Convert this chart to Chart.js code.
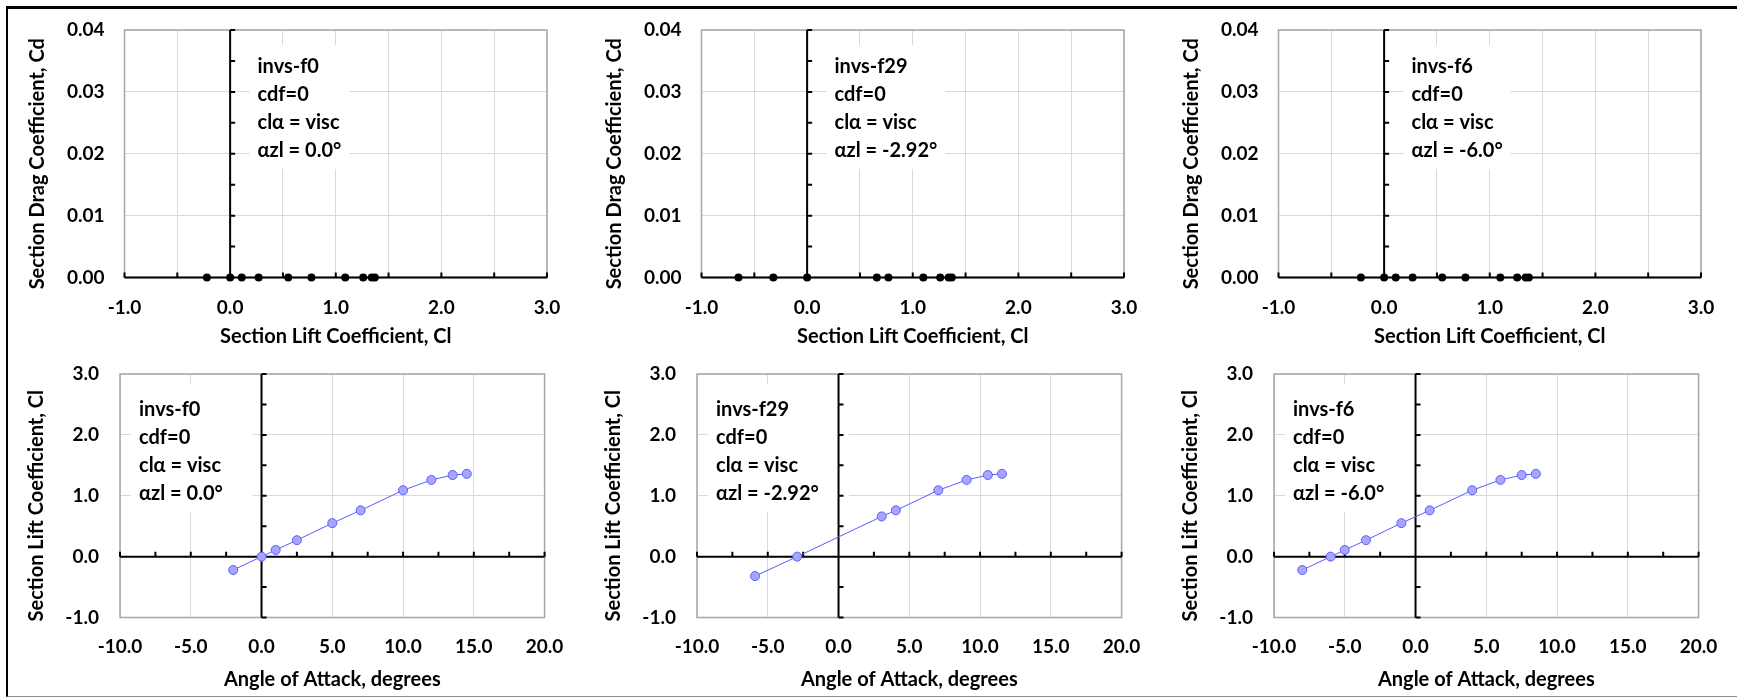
<!DOCTYPE html>
<html lang="en">
  <head>
    <meta charset="UTF-8" />
    <title>Section drag and lift - invs-f0 / invs-f29 / invs-f6</title>
    <script src="https://cdn.jsdelivr.net/npm/chart.js"></script>
    <style>
      body {
        margin: 0;
        background: #fff;
        width: 1737px;
        height: 698px;
        position: relative;
        overflow: hidden;
      }
      .frame {
        position: absolute;
        left: 6px;
        top: 6px;
        width: 1740px;
        height: 687px;
        border-top: 3px solid #000;
        border-left: 2px solid #000;
        border-bottom: 1px solid #8c8c8c;
      }
      canvas {
        position: absolute;
      }
    </style>
  </head>
  <body>
    <div class="frame"></div>
    <canvas id="polar-f0" width="577" height="349" style="left:0;top:0"></canvas>
    <canvas id="polar-f29" width="577" height="349" style="left:577px;top:0"></canvas>
    <canvas id="polar-f6" width="577" height="349" style="left:1154px;top:0"></canvas>
    <canvas id="lift-f0" width="577" height="349" style="left:0;top:349px"></canvas>
    <canvas id="lift-f29" width="577" height="349" style="left:577px;top:349px"></canvas>
    <canvas id="lift-f6" width="577" height="349" style="left:1154px;top:349px"></canvas>

    <script>
      // top row: drag polars (Cd against Cl)
      const polarClF0 = [-0.22, 0.0, 0.11, 0.27, 0.55, 0.77, 1.09, 1.26, 1.34, 1.37]
      const polarCdF0 = [0, 0, 0, 0, 0, 0, 0, 0, 0, 0]
      const polarClF29 = [-0.65, -0.32, 0.0, 0.66, 0.77, 1.1, 1.26, 1.34, 1.37]
      const polarCdF29 = [0, 0, 0, 0, 0, 0, 0, 0, 0]
      const polarClF6 = [-0.22, 0.0, 0.11, 0.27, 0.55, 0.77, 1.1, 1.26, 1.34, 1.37]
      const polarCdF6 = [0, 0, 0, 0, 0, 0, 0, 0, 0, 0]

      // bottom row: lift curves (Cl against angle of attack)
      const alphaF0 = [-2, 0, 1, 2.5, 5, 7, 10, 12, 13.5, 14.5]
      const liftClF0 = [-0.22, 0.0, 0.11, 0.27, 0.55, 0.76, 1.09, 1.26, 1.34, 1.36]
      const alphaF29 = [-5.9, -2.92, 3.05, 4.05, 7.05, 9.05, 10.55, 11.55]
      const liftClF29 = [-0.32, 0.0, 0.66, 0.76, 1.09, 1.26, 1.34, 1.36]
      const alphaF6 = [-8, -6, -5, -3.5, -1, 1, 4, 6, 7.5, 8.5]
      const liftClF6 = [-0.22, 0.0, 0.11, 0.27, 0.55, 0.76, 1.09, 1.26, 1.34, 1.36]

      // axis ranges [min, max, grid step, label step]
      const polarClAxis = [-1, 3, 0.5, 1]
      const polarCdAxis = [0, 0.04, 0.01, 0.01]
      const alphaAxis = [-10, 20, 5, 5]
      const liftClAxis = [-1, 3, 1, 1]

      // text boxes
      const noteF0 = ['invs-f0', 'cdf=0', 'cl\u03b1 = visc', '\u03b1zl = 0.0\u00b0']
      const noteF29 = ['invs-f29', 'cdf=0', 'cl\u03b1 = visc', '\u03b1zl = -2.92\u00b0']
      const noteF6 = ['invs-f6', 'cdf=0', 'cl\u03b1 = visc', '\u03b1zl = -6.0\u00b0']

      const FONT = 'Lato'
      // Excel sits the vertical titles a bit below the middle of the plot
      const NUDGE = '\u2002\u2002'

      function points(xs, ys) {
        return xs.map((x, i) => ({ x: x, y: ys[i] }))
      }

      function onStep(v, step) {
        const k = v / step
        return Math.abs(k - Math.round(k)) < 1e-6
      }

      // draws the note box, plot frame and the black axes through zero
      const crossAxes = {
        id: 'crossAxes',
        beforeDatasetsDraw(chart, args, o) {
          const { ctx, chartArea: a } = chart
          const sx = chart.scales.x
          const sy = chart.scales.y
          ctx.save()

          ctx.font = 'bold 20px ' + FONT
          const tx = a.left + o.noteX
          const ty = a.top + o.noteY
          const w = Math.max(...o.note.map(t => ctx.measureText(t).width))
          const last = ty + (o.note.length - 1) * o.lineGap
          ctx.fillStyle = '#fff'
          ctx.fillRect(tx - 8, ty - o.boxTop, w + 8 + o.boxRight, last - ty + o.boxTop + 18)
          ctx.fillStyle = '#000'
          ctx.textBaseline = 'middle'
          o.note.forEach((t, i) => ctx.fillText(t, tx, ty + i * o.lineGap))

          ctx.strokeStyle = '#a6a6a6'
          ctx.lineWidth = 1.5
          ctx.strokeRect(a.left, a.top, a.right - a.left, a.bottom - a.top)

          const x0 = sx.getPixelForValue(0)
          const y0 = sy.getPixelForValue(0)
          ctx.strokeStyle = '#000'
          ctx.lineWidth = 2
          ctx.beginPath()
          ctx.moveTo(a.left, y0)
          ctx.lineTo(a.right, y0)
          ctx.moveTo(x0, a.top)
          ctx.lineTo(x0, a.bottom)
          for (let v = sx.min; v <= sx.max + 1e-9; v += o.xTick) {
            const p = sx.getPixelForValue(v)
            ctx.moveTo(p, y0)
            ctx.lineTo(p, y0 - 5)
          }
          for (let v = sy.min; v <= sy.max + 1e-9; v += o.yTick) {
            const p = sy.getPixelForValue(v)
            ctx.moveTo(x0, p)
            ctx.lineTo(x0 + 5, p)
          }
          ctx.stroke()
          ctx.restore()
        }
      }

      // gap between plot and labels comes from an invisible tick length,
      // so chart.js does not grow the layout padding around the plot
      function axis(range, decimals, title, gap, titlePad, size) {
        return {
          type: 'linear',
          min: range[0],
          max: range[1],
          ticks: {
            stepSize: range[2],
            autoSkip: false,
            maxRotation: 0,
            padding: 0,
            color: '#000',
            font: { family: FONT, size: 19, weight: 'bold' },
            callback: v => (onStep(v, range[3]) ? v.toFixed(decimals) : '')
          },
          grid: {
            color: '#d9d9d9',
            lineWidth: 1,
            drawTicks: true,
            tickLength: gap,
            tickColor: 'rgba(0,0,0,0)'
          },
          border: { display: false },
          title: {
            display: true,
            text: title,
            color: '#000',
            padding: titlePad,
            font: { family: FONT, size: 20, weight: 'bold' }
          },
          afterFit: s => {
            if (s.isHorizontal()) s.height = size
            else s.width = size
          }
        }
      }

      function polarChart(id, cl, cd, note) {
        return new Chart(document.getElementById(id), {
          type: 'scatter',
          data: {
            datasets: [
              {
                data: points(cl, cd),
                backgroundColor: '#000',
                borderColor: '#000',
                pointRadius: 4,
                pointBorderWidth: 0,
                clip: false
              }
            ]
          },
          options: {
            responsive: false,
            animation: false,
            devicePixelRatio: 1,
            layout: { padding: { left: 0, right: 30, top: 30, bottom: 0 } },
            plugins: {
              legend: { display: false },
              tooltip: { enabled: false },
              crossAxes: {
                note: note,
                noteX: 133,
                noteY: 37,
                lineGap: 28,
                boxTop: 22,
                boxRight: 8,
                xTick: 0.5,
                yTick: 0.005
              }
            },
            scales: {
              x: axis(polarClAxis, 1, 'Section Lift Coefficient, Cl', 19, { top: 0, bottom: 0 }, 71.5),
              y: axis(polarCdAxis, 2, 'Section Drag Coefficient, Cd' + NUDGE, 20, { top: 26, bottom: 0 }, 124.5)
            }
          },
          plugins: [crossAxes]
        })
      }

      function liftChart(id, alpha, cl, note) {
        return new Chart(document.getElementById(id), {
          type: 'scatter',
          data: {
            datasets: [
              {
                data: points(alpha, cl),
                showLine: true,
                tension: 0,
                borderColor: '#5c5cff',
                borderWidth: 1,
                backgroundColor: '#a6a6ff',
                pointBackgroundColor: '#a6a6ff',
                pointBorderColor: '#5c5cff',
                pointBorderWidth: 1,
                pointRadius: 4.5,
                clip: false
              }
            ]
          },
          options: {
            responsive: false,
            animation: false,
            devicePixelRatio: 1,
            layout: { padding: { left: 0, right: 32.4, top: 25, bottom: 0 } },
            plugins: {
              legend: { display: false },
              tooltip: { enabled: false },
              crossAxes: {
                note: note,
                noteX: 19,
                noteY: 36,
                lineGap: 28,
                boxTop: 26,
                boxRight: 30,
                xTick: 2.5,
                yTick: 0.5
              }
            },
            scales: {
              x: axis(alphaAxis, 1, 'Angle of Attack, degrees', 18, { top: 0, bottom: 6 }, 80.5),
              y: axis(liftClAxis, 1, 'Section Lift Coefficient, Cl' + NUDGE, 21, { top: 25, bottom: 0 }, 120)
            }
          },
          plugins: [crossAxes]
        })
      }

      polarChart('polar-f0', polarClF0, polarCdF0, noteF0)
      polarChart('polar-f29', polarClF29, polarCdF29, noteF29)
      polarChart('polar-f6', polarClF6, polarCdF6, noteF6)
      liftChart('lift-f0', alphaF0, liftClF0, noteF0)
      liftChart('lift-f29', alphaF29, liftClF29, noteF29)
      liftChart('lift-f6', alphaF6, liftClF6, noteF6)
    </script>
  </body>
</html>
